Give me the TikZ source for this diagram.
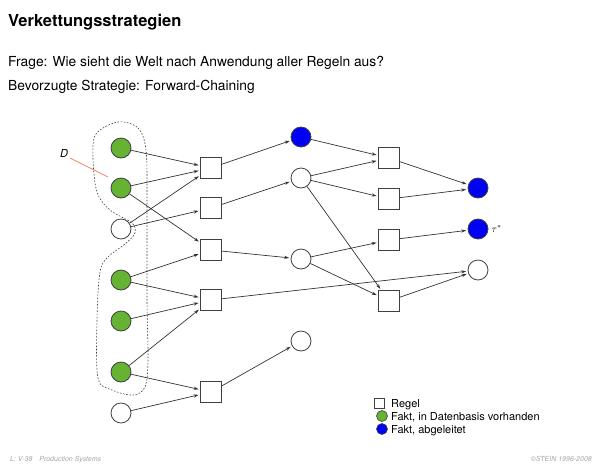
\documentclass[tikz,border=0pt]{standalone}
\usepackage{fontspec}
\setmainfont{TeX Gyre Heros}
\usetikzlibrary{arrows.meta}
\definecolor{gruen}{RGB}{102,178,51}
\definecolor{blau}{RGB}{0,0,245}
\definecolor{lachs}{RGB}{240,130,100}
\begin{document}
\begin{tikzpicture}[x=1pt,y=-1pt,
  regel/.style={draw=black!75,fill=white,line width=0.8pt,minimum size=21pt,inner sep=0pt},
  fakt/.style={circle,draw=black!75,fill=white,line width=0.8pt,minimum size=20pt,inner sep=0pt},
  basis/.style={fakt,fill=gruen},
  abgel/.style={fakt,fill=blau},
  pfeil/.style={draw=black!80,line width=0.7pt,-{Stealth[length=5pt,width=3.2pt]},shorten >=1.5pt},
  txt/.style={anchor=base west,inner sep=0pt}]
  \useasboundingbox (0,0) rectangle (600,467);
% Kopf
  \node[txt,font=\fontsize{16.5}{18}\selectfont\bfseries] (titel) at (8,26) {Verkettungsstrategien};
  \node[txt,font=\fontsize{13.8}{16}\selectfont] (frage) at (8,66) {Frage: Wie sieht die Welt nach Anwendung aller Regeln aus?};
  \node[txt,font=\fontsize{13.8}{16}\selectfont] (strat) at (8,90) {Bevorzugte Strategie: Forward-Chaining};
% Datenbasis D
  \draw[black!75,line width=0.6pt,dash pattern=on 1.6pt off 1.6pt] plot[smooth cycle,tension=0.55] coordinates {
    (118,122) (138,128) (146,150) (147,200) (147,300) (148,360) (145,387) (133,395)
    (112,390) (98,378) (97,320) (100,272) (108,257) (125,244) (135,233) (132,223)
    (110,210) (97,192) (93,158) (96,134)};
  \node[font=\itshape\fontsize{11}{12}\selectfont] (D) at (64,153) {D};
  \coordinate (Dend) at (108,177);
  \draw[lachs,line width=0.7pt] (70,158) -- (Dend);
% Fakten links
  \node[basis] (l1) at (121,148) {};
  \node[basis] (l2) at (121,188) {};
  \node[fakt]  (l3) at (121,229) {};
  \node[basis] (l4) at (121,280) {};
  \node[basis] (l5) at (121,321) {};
  \node[basis] (l6) at (121,372) {};
  \node[fakt]  (l7) at (121,413) {};
% erste Regeln
  \node[regel] (r1) at (211,168) {};
  \node[regel] (r2) at (211,208) {};
  \node[regel] (r3) at (211,250) {};
  \node[regel] (r4) at (211,300) {};
  \node[regel] (r5) at (211,392) {};
% Fakten Mitte
  \node[abgel] (m1) at (301,137) {};
  \node[fakt]  (m2) at (301,178) {};
  \node[fakt]  (m3) at (301,259) {};
  \node[fakt]  (m4) at (301,341) {};
% zweite Regeln
  \node[regel] (s1) at (389,158) {};
  \node[regel] (s2) at (389,199) {};
  \node[regel] (s3) at (389,240) {};
  \node[regel] (s4) at (389,301) {};
% Fakten rechts
  \node[abgel] (t1) at (478,188) {};
  \node[abgel] (t2) at (478,229) {};
  \node[fakt]  (t3) at (478,270) {};
  \node[anchor=west,inner sep=3pt] (tau) at (t2.east) {$\tau^*$};
% Kanten
  \draw[pfeil] (l1) -- (r1);
  \draw[pfeil] (l2) -- (r1);
  \draw[pfeil] (l3) -- (r1);
  \draw[pfeil] (l2) -- (r3);
  \draw[pfeil] (l3) -- (r2);
  \draw[pfeil] (l4) -- (r3);
  \draw[pfeil] (l4) -- (r4);
  \draw[pfeil] (l5) -- (r4);
  \draw[pfeil] (l6) -- (r4);
  \draw[pfeil] (l6) -- (r5);
  \draw[pfeil] (l7) -- (r5);
  \draw[pfeil] (r1) -- (m1);
  \draw[pfeil] (r2) -- (m2);
  \draw[pfeil] (r3) -- (m3);
  \draw[pfeil] (r4) -- (t3);
  \draw[pfeil] (r5) -- (m4);
  \draw[pfeil] (m1) -- (s1);
  \draw[pfeil] (m2) -- (s1);
  \draw[pfeil] (m2) -- (s2);
  \draw[pfeil] (m2) -- (s4);
  \draw[pfeil] (m3) -- (s3);
  \draw[pfeil] (m3) -- (s4);
  \draw[pfeil] (s1) -- (t1);
  \draw[pfeil] (s2) -- (t1);
  \draw[pfeil] (s3) -- (t2);
  \draw[pfeil] (s4) -- (t3);
% Legende
  \node[regel,minimum size=10pt,line width=0.6pt] (legR) at (379,403) {};
  \node[basis,minimum size=11pt,line width=0.6pt] (legG) at (382,416) {};
  \node[abgel,minimum size=11pt,line width=0.6pt] (legB) at (382,429) {};
  \node[txt,font=\fontsize{11}{12}\selectfont] (legRt) at (391,407) {Regel};
  \node[txt,font=\fontsize{11}{12}\selectfont] (legGt) at (391,420) {Fakt, in Datenbasis vorhanden};
  \node[txt,font=\fontsize{11}{12}\selectfont] (legBt) at (391,433) {Fakt, abgeleitet};
% Fusszeile
  \node[txt,text=black!35,font=\itshape\fontsize{7}{8}\selectfont] (fussL) at (10,461) {L: V-38\quad Production Systems};
  \node[anchor=base east,inner sep=0pt,text=black!35,font=\itshape\fontsize{7}{8}\selectfont] (fussR) at (592,461) {©STEIN 1996-2008};
\end{tikzpicture}
\end{document}
